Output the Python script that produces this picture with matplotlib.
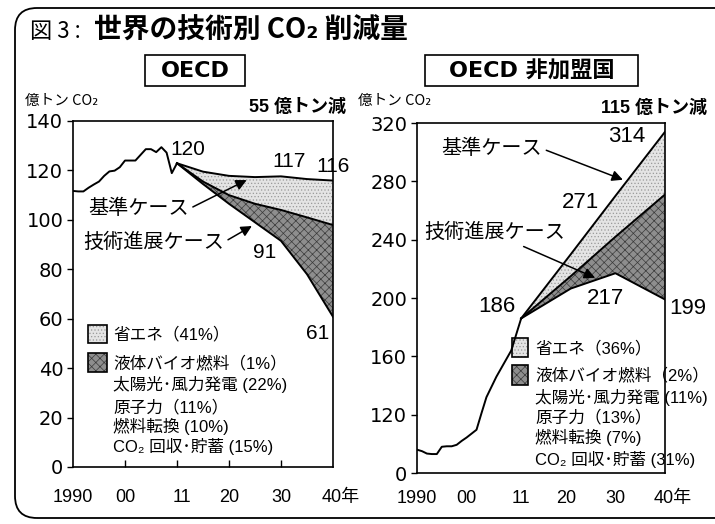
import numpy as np
import matplotlib.pyplot as plt
from matplotlib.patches import Rectangle, FancyBboxPatch

plt.rcParams['font.family'] = ['DejaVu Sans', 'Noto Sans CJK JP']
JP = ['Noto Sans CJK JP', 'DejaVu Sans']
NUM = ['Liberation Sans', 'Noto Sans CJK JP']

# OECD
oecd_years = list(range(1990, 2011))
oecd_hist = [111.7, 111.5, 111.5, 113.0, 114.3, 115.5, 117.8, 119.6, 119.9, 121.3,
             124.0, 124.0, 124.0, 126.3, 128.6, 128.6, 127.4, 129.4, 127.2, 118.9, 122.9]
oecd_proj_years = [2010, 2015, 2020, 2025, 2030, 2035, 2040]
oecd_base = [122.9, 119.5, 117.8, 117.3, 117.6, 116.5, 115.9]
oecd_mid = [122.9, 115.5, 110.0, 106.5, 104.0, 101.0, 97.9]
oecd_tech = [122.9, 114.5, 106.5, 99.0, 91.5, 78.0, 60.8]
oecd_legend = ['省エネ（41%）', '液体バイオ燃料（1%）', '太陽光･風力発電 (22%)',
               '原子力（11%）', '燃料転換 (10%)', 'CO₂ 回収･貯蓄 (15%)']

# OECD non-members
non_years = list(range(1990, 2012))
non_hist = [48, 45, 40, 39, 39, 54, 55, 55, 58, 66, 73, 81, 89, 121, 132, 139,
            146, 152, 158, 164, 175, 186]
non_proj_years = [2011, 2021, 2030, 2040]
non_base = [186, 230, 270, 314]
non_mid = [186, 215, 242, 271]
non_tech = [186, 206.5, 217, 199]
non_legend = ['省エネ（36%）', '液体バイオ燃料（2%）', '太陽光･風力発電 (11%)',
              '原子力（13%）', '燃料転換 (7%)', 'CO₂ 回収･貯蓄 (31%)']

xtick_pos = [1990, 2000, 2011, 2020, 2030]
xtick_lab = ['1990', '00', '11', '20', '30']
inner_ticks = [2000, 2010, 2020, 2030]

LIGHT = '#e4e4e4'
DARK = '#8e8e8e'


def fwd(y):
    y = np.asarray(y, float)
    return np.where(y < 120, 80 + y / 3, y)


def inv(s):
    s = np.asarray(s, float)
    return np.where(s < 120, (s - 80) * 3, s)


def fills(ax, yrs, base, mid, tech):
    with plt.rc_context({'hatch.color': '#9a9a9a', 'hatch.linewidth': 0.5}):
        ax.fill_between(yrs, base, mid, facecolor=LIGHT, edgecolor='#9a9a9a',
                        hatch='.....', linewidth=0)
    with plt.rc_context({'hatch.color': '#3a3a3a', 'hatch.linewidth': 0.5}):
        ax.fill_between(yrs, mid, tech, facecolor=DARK, edgecolor='#3a3a3a',
                        hatch='xxxx', linewidth=0)
    for s in (base, mid, tech):
        ax.plot(yrs, s, color='black', lw=1.4)


def legend(ax, items, x0, w, ys, hs, tx, tys):
    for (y, h), col, hc, hp in zip(zip(ys, hs), [LIGHT, DARK], ['#9a9a9a', '#3a3a3a'],
                                   ['.....', 'xxxx']):
        with plt.rc_context({'hatch.color': hc, 'hatch.linewidth': 0.5}):
            ax.add_patch(Rectangle((x0, y), w, h, transform=ax.transAxes,
                                   facecolor=col, edgecolor=hc, hatch=hp, lw=0))
        ax.add_patch(Rectangle((x0, y), w, h, transform=ax.transAxes,
                               fill=False, edgecolor='black', lw=1.2))
    for t, y in zip(items, tys):
        ax.text(tx, y, t, transform=ax.transAxes, fontsize=12, family=NUM,
                va='center', ha='left', clip_on=False)


def style(ax, pad, ticks):
    for sp in ax.spines.values():
        sp.set_linewidth(1.2)
    ax.tick_params(axis='y', labelsize=14, length=4, width=1, pad=3)
    ax.set_xlim(1990, 2040)
    # inward tick marks on the main axis, year labels on a secondary one
    ax.set_xticks(ticks, [''] * len(ticks))
    ax.tick_params(axis='x', direction='in', length=5, width=1)
    sec = ax.secondary_xaxis('bottom')
    sec.set_xticks(xtick_pos, xtick_lab, fontsize=13, family=NUM)
    sec.tick_params(axis='x', length=0, pad=pad)
    sec.spines['bottom'].set_visible(False)
    ax.annotate('40年', xy=(1, 0), xycoords='axes fraction', xytext=(-8, -pad),
                textcoords='offset points', ha='left', va='top', fontsize=13,
                family=NUM)


fig = plt.figure(figsize=(7.15, 5.24), dpi=100)
ax1 = fig.add_axes([0.1021, 0.1088, 0.3636, 0.6603])
ax2 = fig.add_axes([0.5832, 0.0973, 0.3469, 0.6679])

# left panel
fills(ax1, oecd_proj_years, oecd_base, oecd_mid, oecd_tech)
ax1.plot(oecd_years, oecd_hist, color='black', lw=1.4)
ax1.set_ylim(0, 140)
ax1.set_yticks(range(0, 141, 20))
style(ax1, 16, inner_ticks)

for t, x, y in [('120', 2012.1, 128.3), ('117', 2031.5, 123.8), ('116', 2040, 121.4),
                ('91', 2026.9, 86.6), ('61', 2037, 54.2)]:
    ax1.text(x, y, t, fontsize=15, family=NUM, ha='center', va='center', clip_on=False)
ax1.annotate('基準ケース', xy=(2023.4, 116.1), xytext=(2002.6, 104.4), fontsize=14.5,
             family=JP, ha='center', va='center',
             arrowprops=dict(arrowstyle='-|>', color='black', lw=1.1,
                             mutation_scale=16, relpos=(1, 0.5), shrinkA=1, shrinkB=0))
ax1.annotate('技術進展ケース', xy=(2024.4, 97.5), xytext=(2005.5, 91), fontsize=14.5,
             family=JP, ha='center', va='center',
             arrowprops=dict(arrowstyle='-|>', color='black', lw=1.1,
                             mutation_scale=16, relpos=(1, 0.5), shrinkA=1, shrinkB=0))
legend(ax1, oecd_legend, 0.058, 0.073, [0.358, 0.275], [0.052, 0.055], 0.154,
       [0.384, 0.301, 0.237, 0.173, 0.118, 0.058])

# right panel
fills(ax2, non_proj_years, non_base, non_mid, non_tech)
ax2.plot(non_years, non_hist, color='black', lw=1.4)
ax2.set_yscale('function', functions=(fwd, inv))
ax2.set_ylim(0, 320)
ax2.set_yticks([0, 120, 160, 200, 240, 280, 320])
ax2.minorticks_off()
style(ax2, 12, [])

for t, x, y in [('314', 2032.3, 310.6), ('271', 2023, 265.3), ('186', 2006.1, 194.2),
                ('217', 2028.1, 199.6), ('199', 2044.6, 192.7)]:
    ax2.text(x, y, t, fontsize=16, family=NUM, ha='center', va='center', clip_on=False)
ax2.annotate('基準ケース', xy=(2031.5, 281.1), xytext=(2005.1, 302.4), fontsize=14.5,
             family=JP, ha='center', va='center',
             arrowprops=dict(arrowstyle='-|>', color='black', lw=1.1,
                             mutation_scale=16, relpos=(1, 0.5), shrinkA=1, shrinkB=0))
ax2.annotate('技術進展ケース', xy=(2025.9, 213.9), xytext=(2005.7, 244.8), fontsize=14.5,
             family=JP, ha='center', va='center',
             arrowprops=dict(arrowstyle='-|>', color='black', lw=1.1,
                             mutation_scale=16, relpos=(0.65, 0), shrinkA=1, shrinkB=0))
legend(ax2, non_legend, 0.383, 0.065, [0.331, 0.251], [0.054, 0.057], 0.476,
       [0.357, 0.28, 0.217, 0.16, 0.103, 0.04])


# figure-level text, positions in pixels
def fx(x):
    return x / 715


def fy(y):
    return 1 - y / 524


fig.add_artist(FancyBboxPatch((0.15, 0.06), 7.4, 5.10,
                              boxstyle='round,pad=0,rounding_size=0.22',
                              transform=fig.dpi_scale_trans, fill=False,
                              ec='black', lw=1.3))
fig.text(fx(30), fy(31), '図 3 :', fontsize=16, family=JP, va='center')
fig.text(fx(94), fy(31), '世界の技術別 CO₂ 削減量', fontsize=20, weight='bold',
         family=JP, va='center')

for x0, x1, label in [(145, 245, 'OECD'), (425, 638, 'OECD 非加盟国')]:
    fig.add_artist(Rectangle((x0 / 100, (524 - 86) / 100), (x1 - x0) / 100, 0.31,
                             transform=fig.dpi_scale_trans, fill=False,
                             ec='black', lw=1.2))
    fig.text(fx((x0 + x1) / 2), fy(71), label, fontsize=16, weight='bold',
             ha='center', va='center')

fig.text(fx(25), fy(101), '億トン CO₂', fontsize=10.5, family=JP, va='center')
fig.text(fx(358), fy(101), '億トン CO₂', fontsize=10.5, family=JP, va='center')
fig.text(fx(249), fy(107), '55 億トン減', fontsize=13, weight='bold', family=NUM,
         va='center')
fig.text(fx(601), fy(108), '115 億トン減', fontsize=13, weight='bold', family=NUM,
         va='center')

fig.savefig('out.png', dpi=100)
